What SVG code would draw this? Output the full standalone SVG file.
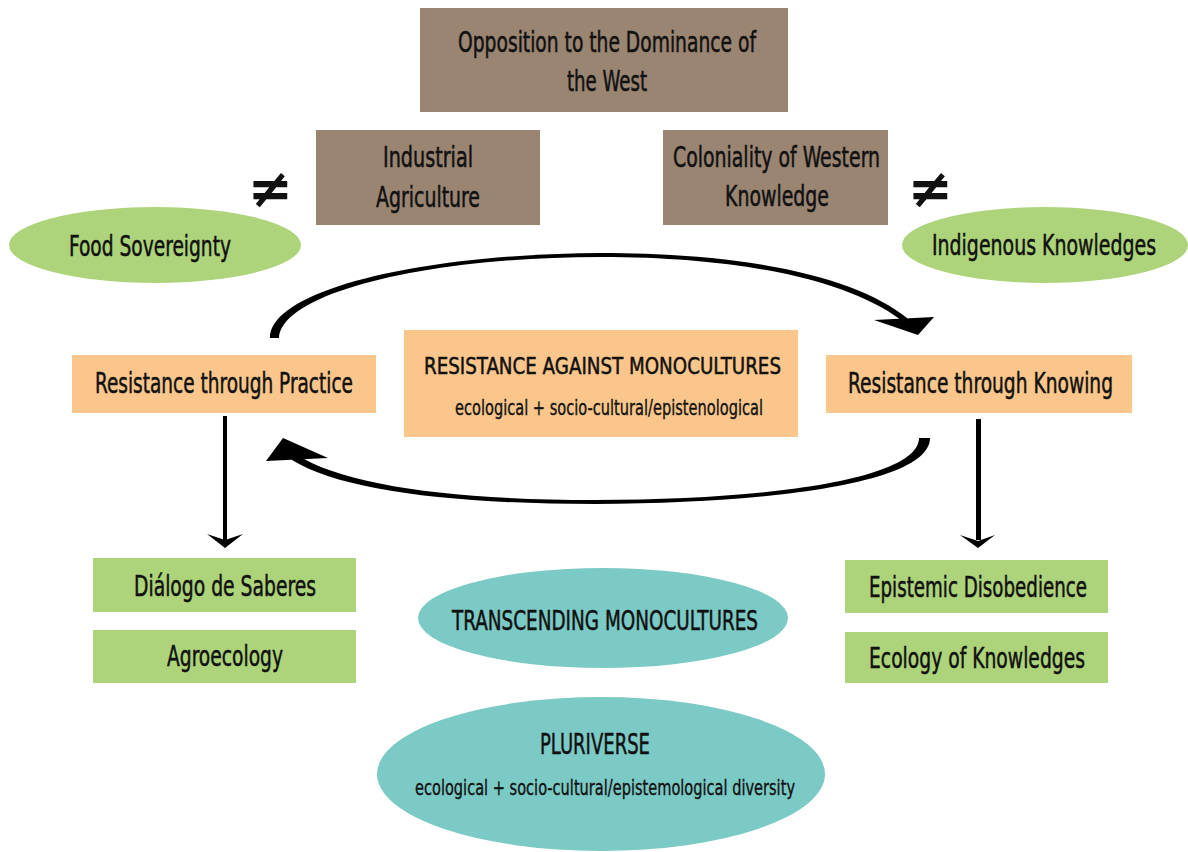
<svg xmlns="http://www.w3.org/2000/svg" width="1188" height="852" viewBox="0 0 1188 852">
<style>
.brown{fill:#9A8472}
.orange{fill:#FBC68B}
.green{fill:#ADD47A}
.teal{fill:#7BCAC5}
text{font-family:"Liberation Sans Narrow","DejaVu Sans Condensed","Liberation Sans",sans-serif;fill:#111;stroke:#111;stroke-width:0.5px;font-stretch:condensed}
.t{font-size:28px}
.cap{font-size:23px}
.cap2{font-size:27px}
.big{font-size:29px}
.s{font-size:21px;stroke-width:0.35px}
.ne{font-family:"DejaVu Sans",sans-serif;font-size:54px;font-weight:bold;font-stretch:normal;stroke:none}
.arr{fill:#000}
</style>
<rect width="1188" height="852" fill="#fff"/>

<g id="opposition">
<rect class="brown" x="420" y="8" width="368" height="104"/>
<text class="t" x="458" y="52" textLength="298" lengthAdjust="spacingAndGlyphs">Opposition to the Dominance of</text>
<text class="t" x="567" y="91" textLength="80" lengthAdjust="spacingAndGlyphs">the West</text>
</g>

<g id="industrial-agriculture">
<rect class="brown" x="316" y="130" width="224" height="95"/>
<text class="t" x="383" y="167" textLength="90" lengthAdjust="spacingAndGlyphs">Industrial</text>
<text class="t" x="376" y="207" textLength="104" lengthAdjust="spacingAndGlyphs">Agriculture</text>
</g>

<g id="coloniality">
<rect class="brown" x="663" y="130" width="225" height="95"/>
<text class="t" x="673" y="167" textLength="207" lengthAdjust="spacingAndGlyphs">Coloniality of Western</text>
<text class="t" x="725" y="206" textLength="104" lengthAdjust="spacingAndGlyphs">Knowledge</text>
</g>

<g id="neq-left"><text class="ne" x="270" y="207" text-anchor="middle">≠</text></g>
<g id="neq-right"><text class="ne" x="930" y="207" text-anchor="middle">≠</text></g>

<g id="food-sovereignty">
<ellipse class="green" cx="155" cy="245" rx="146" ry="38"/>
<text class="t" x="69" y="256" textLength="162" lengthAdjust="spacingAndGlyphs">Food Sovereignty</text>
</g>

<g id="indigenous-knowledges">
<ellipse class="green" cx="1045" cy="245" rx="143" ry="38"/>
<text class="t" x="932" y="255" textLength="224" lengthAdjust="spacingAndGlyphs">Indigenous Knowledges</text>
</g>

<g id="resistance-practice">
<rect class="orange" x="72" y="355" width="304" height="58"/>
<text class="t" x="95" y="393" textLength="258" lengthAdjust="spacingAndGlyphs">Resistance through Practice</text>
</g>

<g id="resistance-monocultures">
<rect class="orange" x="404" y="330" width="394" height="107"/>
<text class="cap" x="424" y="374" textLength="357" lengthAdjust="spacingAndGlyphs">RESISTANCE AGAINST MONOCULTURES</text>
<text class="s" x="455" y="415" textLength="308" lengthAdjust="spacingAndGlyphs">ecological + socio-cultural/epistenological</text>
</g>

<g id="resistance-knowing">
<rect class="orange" x="826" y="355" width="306" height="58"/>
<text class="t" x="848" y="393" textLength="265" lengthAdjust="spacingAndGlyphs">Resistance through Knowing</text>
</g>

<g id="dialogo">
<rect class="green" x="93" y="558" width="263" height="54"/>
<text class="t" x="134" y="596" textLength="182" lengthAdjust="spacingAndGlyphs">Diálogo de Saberes</text>
</g>

<g id="agroecology">
<rect class="green" x="93" y="630" width="263" height="53"/>
<text class="t" x="167" y="666" textLength="116" lengthAdjust="spacingAndGlyphs">Agroecology</text>
</g>

<g id="epistemic-disobedience">
<rect class="green" x="845" y="560" width="263" height="53"/>
<text class="t" x="869" y="597" textLength="218" lengthAdjust="spacingAndGlyphs">Epistemic Disobedience</text>
</g>

<g id="ecology-knowledges">
<rect class="green" x="845" y="632" width="263" height="51"/>
<text class="t" x="869" y="668" textLength="216" lengthAdjust="spacingAndGlyphs">Ecology of Knowledges</text>
</g>

<g id="transcending">
<ellipse class="teal" cx="603" cy="618" rx="185" ry="50"/>
<text class="cap2" x="452" y="630" textLength="306" lengthAdjust="spacingAndGlyphs">TRANSCENDING MONOCULTURES</text>
</g>

<g id="pluriverse">
<ellipse class="teal" cx="601" cy="774" rx="224" ry="77"/>
<text class="big" x="540" y="754" textLength="110" lengthAdjust="spacingAndGlyphs">PLURIVERSE</text>
<text class="s" x="415" y="795" textLength="380" lengthAdjust="spacingAndGlyphs">ecological + socio-cultural/epistemological diversity</text>
</g>

<g id="connectors">
<path class="arr" d="M270,338 C270,290 420,254 600,253 C760,253 860,280 907,318 L906,324 C860,286 760,257 600,257 C430,257 282,292 279,338 Z"/>
<polygon class="arr" points="874,320 934,317 918,335"/>
<path class="arr" d="M930,438 C930,482 780,503 595,504 C450,504 340,490 292,460 L297,455 C345,485 450,500 595,500 C775,500 919,478 919,438 Z"/>
<polygon class="arr" points="283,438 266,461 328,458"/>
<rect class="arr" x="223" y="416" width="4" height="124"/>
<polygon class="arr" points="207,534 225,540 243,534 225,548"/>
<rect class="arr" x="976" y="419" width="5" height="121"/>
<polygon class="arr" points="960,535 978,541 995,535 978,548"/>
</g>
</svg>
